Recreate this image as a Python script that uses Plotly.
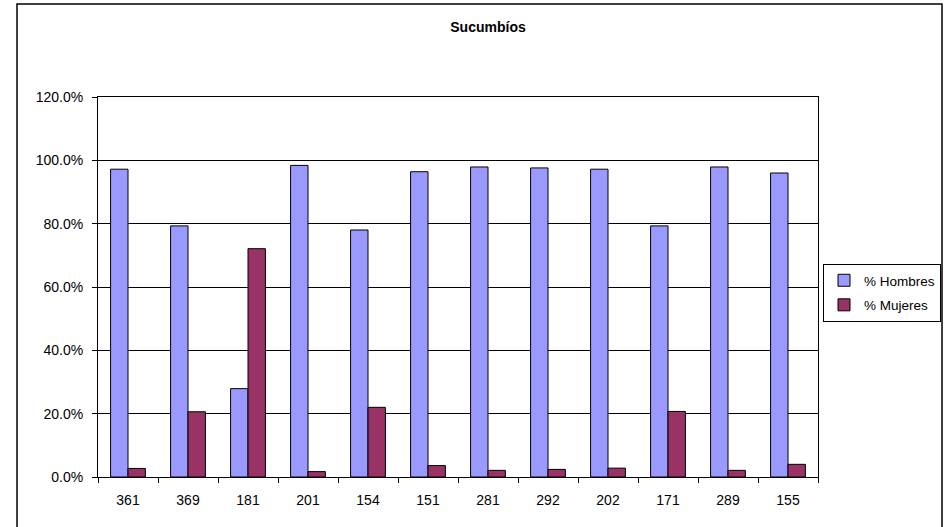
import plotly.graph_objects as go

categories = ["361", "369", "181", "201", "154", "151", "281", "292", "202", "171", "289", "155"]
hombres = [97.2, 79.3, 27.9, 98.4, 78.0, 96.4, 97.9, 97.6, 97.2, 79.3, 97.9, 96.0]
mujeres = [2.7, 20.6, 72.1, 1.7, 22.0, 3.6, 2.1, 2.4, 2.8, 20.7, 2.1, 4.0]
y_ticks = [0, 20, 40, 60, 80, 100, 120]

W, H = 947, 527
L, R, T, B = 98, 818, 97, 477

fig = go.Figure()
fig.add_trace(go.Bar(name="% Hombres", x=categories, y=hombres, legendgroup="h",
                     marker=dict(color="#9999FF", line=dict(color="black", width=1))))
fig.add_trace(go.Bar(name="% Mujeres", x=categories, y=mujeres, legendgroup="m",
                     marker=dict(color="#993366", line=dict(color="black", width=1))))

font = "Liberation Sans, Arial, sans-serif"
fig.update_layout(
    width=W, height=H,
    margin=dict(l=L, r=W - R, t=T, b=H - B, pad=0, autoexpand=False),
    paper_bgcolor="white", plot_bgcolor="white",
    barmode="group", bargap=0.42, bargroupgap=0,
    font=dict(family=font, size=14, color="black"),
    title=dict(text="<b>Sucumbíos</b>", x=488 / W, xanchor="center",
               xref="container", yref="container",
               y=1 - 27 / H, yanchor="middle", font=dict(size=14)),
    legend=dict(xref="container", yref="container",
                x=823 / W, xanchor="left",
                y=1 - 264 / H, yanchor="top",
                bordercolor="black", borderwidth=1, bgcolor="white",
                font=dict(size=13.5), tracegroupgap=4, itemwidth=30),
    showlegend=True,
)
fig.update_xaxes(type="category", showline=True, linecolor="black", linewidth=1,
                 mirror=True, ticks="outside", ticklen=5, tickcolor="black",
                 tickson="boundaries", showgrid=False, ticklabelstandoff=10,
                 tickfont=dict(size=14), automargin=False)
fig.update_yaxes(range=[0, 120], tickvals=y_ticks,
                 ticktext=[f"{v:.1f}%" for v in y_ticks],
                 showline=True, linecolor="black", linewidth=1, mirror=True,
                 ticks="outside", ticklen=5, tickcolor="black",
                 showgrid=True, gridcolor="black", gridwidth=1,
                 zeroline=False, ticklabelstandoff=6, tickfont=dict(size=14),
                 automargin=False)

# outer chart border
fig.add_shape(type="rect", xref="paper", yref="paper",
              x0=(17 - L) / (R - L), x1=(942 - L) / (R - L),
              y0=(B - 535) / (B - T), y1=(B - 4) / (B - T),
              line=dict(color="black", width=1.5), layer="below")

fig.write_html("out.html", config={"displayModeBar": False},
               post_script="document.body.style.margin='0';")
